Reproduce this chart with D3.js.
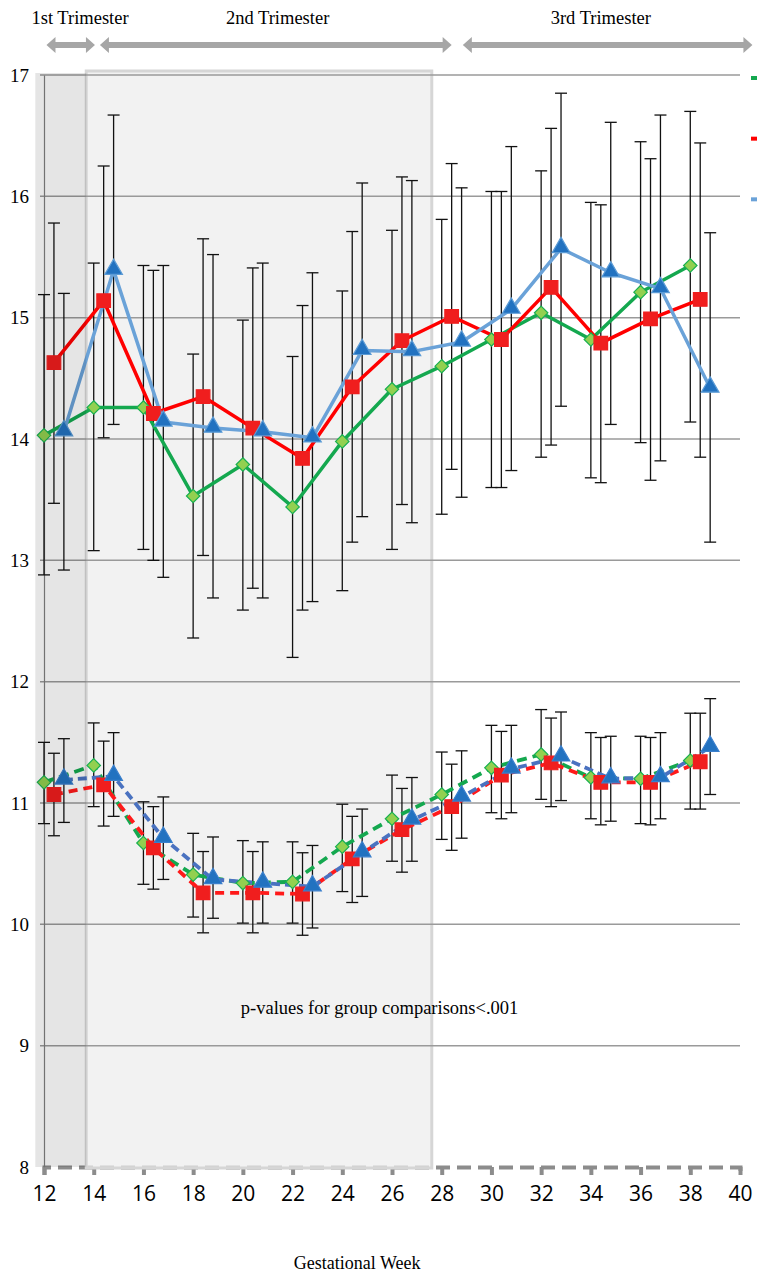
<!DOCTYPE html>
<html><head><meta charset="utf-8">
<script src="https://cdn.jsdelivr.net/npm/d3@7"></script>
<style>html,body{margin:0;padding:0;background:#fff}svg{display:block}</style>
</head><body>
<script>
// ---------- data ----------
const weeks = [12,14,16,18,20,22,24,26,28,30,32,34,36,38];
const xTicks = [12,14,16,18,20,22,24,26,28,30,32,34,36,38,40];
const yTicks = [8,9,10,11,12,13,14,15,16,17];
const trimesterLabels = ["1st Trimester","2nd Trimester","3rd Trimester"];
const trimesterRanges = [[12.1,14.05],[14.25,28.4],[28.85,40.5]];
const trimesterLabelWeeks = [13.45,21.4,34.4];
const note = "p-values for group comparisons<.001";
const xTitle = "Gestational Week";

const greenUpper   = [14.03,14.26,14.26,13.53,13.79,13.44,13.98,14.41,14.60,14.82,15.04,14.82,15.21,15.43];
const greenUpperLo = [12.88,13.08,13.09,12.36,12.59,12.20,12.75,13.09,13.38,13.60,13.85,13.68,13.97,14.14];
const greenUpperHi = [15.19,15.45,15.43,14.70,14.98,14.68,15.22,15.72,15.81,16.04,16.21,15.95,16.45,16.70];

const redUpper     = [14.63,15.14,14.21,14.35,14.09,13.84,14.43,14.81,15.01,14.82,15.25,14.79,14.99,15.15];
const redUpperLo   = [13.47,14.01,13.00,13.04,12.77,12.59,13.15,13.46,13.75,13.60,13.95,13.64,13.66,13.85];
const redUpperHi   = [15.78,16.25,15.39,15.65,15.41,15.10,15.71,16.16,16.27,16.04,16.56,15.93,16.31,16.44];

const blueUpper    = [14.06,15.39,14.14,14.09,14.06,14.01,14.73,14.72,14.80,15.07,15.57,15.37,15.24,14.42];
const blueUpperLo  = [12.92,14.12,12.86,12.69,12.69,12.66,13.36,13.31,13.52,13.74,14.27,14.12,13.82,13.15];
const blueUpperHi  = [15.20,16.67,15.43,15.52,15.45,15.37,16.11,16.13,16.07,16.41,16.85,16.61,16.67,15.70];

const greenLower   = [11.17,11.31,10.67,10.41,10.34,10.35,10.64,10.87,11.07,11.29,11.40,11.21,11.20,11.35];
const greenLowerLo = [10.83,10.97,10.33,10.06,10.01,10.01,10.27,10.52,10.70,10.92,11.03,10.87,10.83,10.95];
const greenLowerHi = [11.50,11.66,11.01,10.75,10.69,10.68,10.99,11.23,11.42,11.64,11.77,11.58,11.55,11.74];

const redLower     = [11.07,11.15,10.63,10.26,10.26,10.25,10.54,10.78,10.97,11.23,11.33,11.17,11.17,11.34];
const redLowerLo   = [10.73,10.81,10.29,9.93,9.93,9.91,10.18,10.43,10.61,10.87,10.97,10.82,10.82,10.95];
const redLowerHi   = [11.41,11.51,10.97,10.60,10.60,10.59,10.89,11.12,11.32,11.59,11.70,11.54,11.54,11.74];

const blueLower    = [11.19,11.22,10.71,10.37,10.34,10.31,10.59,10.86,11.05,11.28,11.38,11.20,11.21,11.46];
const blueLowerLo  = [10.84,10.89,10.37,10.05,10.01,9.97,10.23,10.52,10.71,10.92,11.02,10.85,10.87,11.07];
const blueLowerHi  = [11.53,11.58,11.05,10.72,10.68,10.65,10.95,11.21,11.43,11.64,11.75,11.55,11.58,11.86];

// week offsets of each group within a two-week bin
const groupOffset = {green:0, red:0.4, blue:0.8};

// ---------- layout ----------
const W = 757, H = 1275;
const svg = d3.select("body").append("svg").attr("width", W).attr("height", H);
const x = d3.scaleLinear().domain([12,40]).range([44,740]);
const y = d3.scaleLinear().domain([8,17]).range([1167,75]);
const serif = "'Liberation Serif','Times New Roman',serif";

// x axis (dashed, drawn under bands)
const xAxisG = svg.append("g").attr("transform", `translate(0,${y(8)})`)
  .call(d3.axisBottom(x).tickValues(xTicks).tickSize(8).tickFormat(d3.format("d")));
xAxisG.select(".domain").attr("stroke","#8c8c8c").attr("stroke-width",4).attr("stroke-dasharray","14,7");
xAxisG.selectAll(".tick line").attr("stroke","#8c8c8c").attr("stroke-width",4);
xAxisG.selectAll(".tick text").attr("fill","#000").attr("dy","1.05em")
  .style("font-family","'Open Sans',sans-serif").style("font-size","21px").attr("y",12);

// light 2nd-trimester band
svg.append("rect").attr("x", x(13.7)).attr("y", 71).attr("width", x(27.6)-x(13.7)).attr("height", y(8)-71+1)
  .attr("fill","rgb(236,236,236)").attr("fill-opacity",0.7).attr("stroke","#d6d6d6").attr("stroke-width",3);

// gridlines
const gridG = svg.append("g");
gridG.selectAll("line").data(yTicks.filter(d => d > 8)).join("line")
  .attr("x1", 40).attr("x2", x(40)).attr("y1", d => y(d)).attr("y2", d => y(d))
  .attr("stroke","#9a9a9a").attr("stroke-width",1.5);

// y axis
const yAxisG = svg.append("g").attr("transform", `translate(${x(12)},0)`)
  .call(d3.axisLeft(y).tickValues(yTicks).tickSize(0).tickPadding(15).tickFormat(d3.format("d")));
yAxisG.select(".domain").attr("stroke","#7f7f7f").attr("stroke-width",1.2);
yAxisG.selectAll(".tick text").attr("fill","#000").style("font-family",serif).style("font-size","19px");

// ---------- series ----------
const series = [
  {key:"green", mean:greenUpper, lo:greenUpperLo, hi:greenUpperHi, line:"#14a84f", width:3.5, dash:null, marker:"diamond", fill:"#92d050", stroke:"#18b050"},
  {key:"red",   mean:redUpper,   lo:redUpperLo,   hi:redUpperHi,   line:"#ff0000", width:3.5, dash:null, marker:"square",  fill:"#f01e1e", stroke:"#f01e1e"},
  {key:"blue",  mean:blueUpper,  lo:blueUpperLo,  hi:blueUpperHi,  line:"#6aa2d8", width:3.5, dash:null, marker:"triangle",fill:"#2272c0", stroke:"#5b9bd5"},
  {key:"green", mean:greenLower, lo:greenLowerLo, hi:greenLowerHi, line:"#14a84f", width:3.8, dash:"10,6", marker:"diamond", fill:"#92d050", stroke:"#18b050"},
  {key:"red",   mean:redLower,   lo:redLowerLo,   hi:redLowerHi,   line:"#ff1a1a", width:3.8, dash:"9,6",  marker:"square",  fill:"#f01e1e", stroke:"#f01e1e"},
  {key:"blue",  mean:blueLower,  lo:blueLowerLo,  hi:blueLowerHi,  line:"#4a72c0", width:3.8, dash:"9,5",  marker:"triangle",fill:"#2272c0", stroke:"#3a7fcc"}
];

const pts = s => weeks.map((w,i) => ({w: w + groupOffset[s.key], v: s.mean[i], lo: s.lo[i], hi: s.hi[i]}));

// error bars
const ebG = svg.append("g");
series.forEach(s => {
  const g = ebG.append("g");
  const p = pts(s);
  g.selectAll("line.v").data(p).join("line").attr("class","v")
    .attr("x1", d => x(d.w)).attr("x2", d => x(d.w)).attr("y1", d => y(d.lo)).attr("y2", d => y(d.hi))
    .attr("stroke","#111").attr("stroke-width",1.3);
  ["lo","hi"].forEach(k => {
    g.selectAll("line."+k).data(p).join("line").attr("class",k)
      .attr("x1", d => x(d.w)-6).attr("x2", d => x(d.w)+6).attr("y1", d => y(d[k])).attr("y2", d => y(d[k]))
      .attr("stroke","#111").attr("stroke-width",1.3);
  });
});

// lines
const lineGen = d3.line().x(d => x(d.w)).y(d => y(d.v));
series.forEach(s => {
  svg.append("path").datum(pts(s)).attr("d", lineGen).attr("fill","none")
    .attr("stroke", s.line).attr("stroke-width", s.width)
    .attr("stroke-dasharray", s.dash).attr("stroke-linejoin","round");
});

// markers
const symType = {diamond: d3.symbolDiamond2, square: d3.symbolSquare, triangle: d3.symbolTriangle};
const symSize = {diamond: 115, square: 185, triangle: 135};
series.forEach(s => {
  svg.append("g").selectAll("path").data(pts(s)).join("path")
    .attr("transform", d => `translate(${x(d.w)},${y(d.v) + (s.marker==="triangle"?-1:0)})`)
    .attr("d", d3.symbol().type(symType[s.marker]).size(symSize[s.marker]))
    .attr("fill", s.fill).attr("stroke", s.stroke).attr("stroke-width",1.2);
});

// dark 1st-trimester band overlay
svg.append("rect").attr("x", x(11.65)).attr("y", 73).attr("width", x(13.7)-x(11.65)).attr("height", y(8)-73)
  .attr("fill","#000").attr("fill-opacity",0.1);

// trimester arrows
const arrowG = svg.append("g");
trimesterRanges.forEach(r => {
  const x0 = x(r[0]), x1 = x(r[1]), cy = 45, hw = 8, hl = 9, bw = 3;
  arrowG.append("path")
    .attr("d", `M${x0},${cy} L${x0+hl},${cy-hw} L${x0+hl},${cy-bw} L${x1-hl},${cy-bw} L${x1-hl},${cy-hw} L${x1},${cy} L${x1-hl},${cy+hw} L${x1-hl},${cy+bw} L${x0+hl},${cy+bw} L${x0+hl},${cy+hw} Z`)
    .attr("fill","#a6a6a6");
});
svg.append("g").selectAll("text").data(trimesterLabels).join("text")
  .attr("x", (d,i) => x(trimesterLabelWeeks[i])).attr("y", 24).attr("text-anchor","middle")
  .style("font-family", serif).style("font-size","18.5px").text(d => d);

// cut-off legend samples at right edge
const legendColors = ["#14a84f","#ff0000","#6aa2d8"];
const legendVals = [17, 16.5, 16];
svg.append("g").selectAll("line").data(legendColors).join("line")
  .attr("x1", 751).attr("x2", 760).attr("y1", (d,i) => y(legendVals[i])+3).attr("y2", (d,i) => y(legendVals[i])+3)
  .attr("stroke", d => d).attr("stroke-width",4);

// annotation and axis title
svg.append("text").attr("x", x(25.5)).attr("y", 1014).attr("text-anchor","middle")
  .style("font-family", serif).style("font-size","18.5px").text(note);
svg.append("text").attr("x", x(24.6)).attr("y", 1269).attr("text-anchor","middle")
  .style("font-family", serif).style("font-size","18px").text(xTitle);
</script>
</body></html>
